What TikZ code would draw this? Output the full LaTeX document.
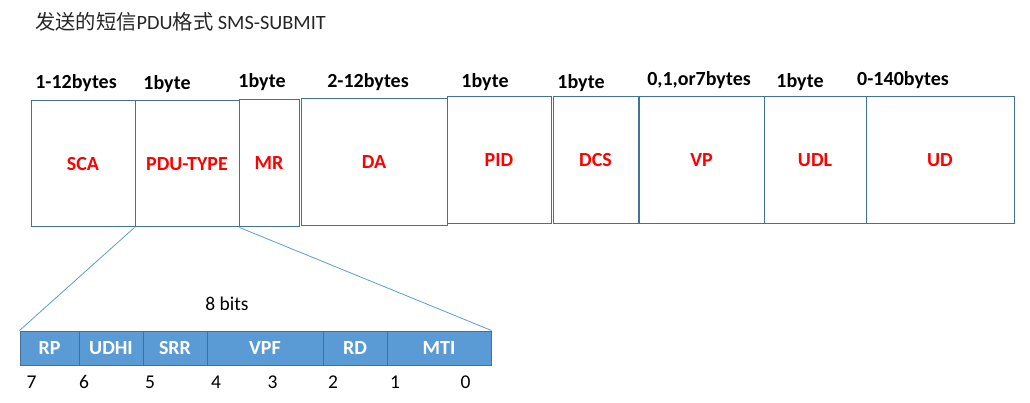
\documentclass[tikz,border=0pt]{standalone}
\usepackage{fontspec}
\setmainfont{Carlito}
\newfontfamily\cjkfont{Noto Sans CJK SC}
\definecolor{frame}{RGB}{65,113,156}
\definecolor{bitfill}{RGB}{91,155,213}
\definecolor{zoomline}{RGB}{91,155,213}
\definecolor{titlegray}{RGB}{38,38,38}
\tikzset{
  field/.style={draw=frame,line width=1pt,inner sep=0pt,text=red,
                font=\fontsize{20}{23}\selectfont\bfseries},
  size/.style={anchor=base,inner sep=0pt,font=\fontsize{20}{23}\selectfont\bfseries},
  bitcell/.style={draw=frame,line width=1pt,fill=bitfill,inner sep=0pt,
                  minimum height=34pt,text=white,font=\fontsize{20}{23}\selectfont\bfseries},
  num/.style={anchor=base,inner sep=0pt,font=\fontsize{19.5}{23}\selectfont},
  zoom/.style={draw=zoomline,line width=0.8pt},
}
\begin{document}
\begin{tikzpicture}[x=1pt,y=-1pt]
  \useasboundingbox (0,0) rectangle (1030,403);
  % title
  \node[anchor=base west,inner sep=0pt,text=titlegray,font=\fontsize{20.3}{23}\selectfont] (title) at (35,30)
    {{\cjkfont 发送的短信}PDU{\cjkfont 格式} SMS-SUBMIT};
  % PDU fields
  \node[field,minimum width=104pt,minimum height=126pt] (sca) at (83,164) {SCA};
  \node[field,minimum width=104pt,minimum height=126pt] (pdu) at (187,164) {PDU-TYPE};
  \node[field,minimum width=60pt,minimum height=127pt] (mr) at (269,163.5) {MR};
  \node[field,minimum width=146pt,minimum height=127pt] (da) at (374,162.5) {DA};
  \node[field,minimum width=104pt,minimum height=127pt] (pid) at (499,160.5) {PID};
  \node[field,minimum width=85pt,minimum height=127pt] (dcs) at (595.5,160.5) {DCS};
  \node[field,minimum width=125pt,minimum height=127pt] (vp) at (701.5,160.5) {VP};
  \node[field,minimum width=102pt,minimum height=127pt] (udl) at (815,160.5) {UDL};
  \node[field,minimum width=148pt,minimum height=127pt] (ud) at (940,160.5) {UD};
  % field lengths
  \node[size] (scalen) at (76,89) {1-12bytes};
  \node[size] (pdulen) at (167,90) {1byte};
  \node[size] (mrlen) at (262,88) {1byte};
  \node[size] (dalen) at (368,88) {2-12bytes};
  \node[size] (pidlen) at (485,88) {1byte};
  \node[size] (dcslen) at (581,89) {1byte};
  \node[size] (vplen) at (699,86) {0,1,or7bytes};
  \node[size] (udllen) at (800,88) {1byte};
  \node[size] (udlen) at (903,86) {0-140bytes};
  % PDU-TYPE bits
  \node[bitcell,minimum width=59pt] (rp) at (49.5,348) {RP};
  \node[bitcell,minimum width=64pt] (udhi) at (111,348) {UDHI};
  \node[bitcell,minimum width=64pt] (srr) at (175,348) {SRR};
  \node[bitcell,minimum width=116pt] (vpf) at (265,348) {VPF};
  \node[bitcell,minimum width=64pt] (rd) at (355,348) {RD};
  \node[bitcell,minimum width=104pt] (mti) at (439,348) {MTI};
  \node[num] (bits) at (227,310.5) {8 bits};
  \node[num] (b7) at (31.5,388) {7};
  \node[num] (b6) at (84,388) {6};
  \node[num] (b5) at (150,388) {5};
  \node[num] (b4) at (216,388) {4};
  \node[num] (b3) at (272.5,388) {3};
  \node[num] (b2) at (333,388) {2};
  \node[num] (b1) at (395,388) {1};
  \node[num] (b0) at (465.5,388) {0};
  % zoom lines
  \draw[zoom] (pdu.south west) -- (rp.north west);
  \draw[zoom] (pdu.south east) -- (mti.north east);
\end{tikzpicture}
\end{document}
